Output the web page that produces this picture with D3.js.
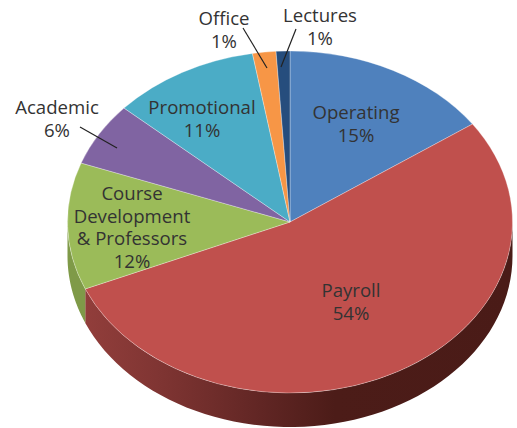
<!DOCTYPE html>
<html>
<head>
<meta charset="utf-8">
<script src="https://cdn.jsdelivr.net/npm/d3@7"></script>
<style>
    html, body { margin: 0; padding: 0; background: #fff; }
    text { font-family: "Open Sans", sans-serif; font-size: 18.6px; fill: #333; }
</style>
</head>
<body>
<svg id="pie" width="517" height="428"></svg>
<script>
// Clockwise from twelve o'clock
var categories = ["Operating", "Payroll", "Course Development & Professors", "Academic", "Promotional", "Office", "Lectures"];
// Slice shares, the printed labels are rounder
var shares = [15.3, 53.3, 12.0, 6.0, 10.7, 1.7, 1.0];
var printed = ["15%", "54%", "12%", "6%", "11%", "1%", "1%"];
var colors = ["#4f81bd", "#c0504d", "#9bbb59", "#8064a2", "#4bacc6", "#f79646", "#264d7d"];

// Label lines and where they sit
var labelLines = [["Operating"], ["Payroll"], ["Course", "Development", "& Professors"], ["Academic"], ["Promotional"], ["Office"], ["Lectures"]];
var labelPos = [[356, 119], [351, 297], [132, 200], [57, 114], [202, 114], [224, 25], [320, 22]];
var leaders = [null, null, null, [[80, 127], [117, 148]], null, [[243, 28], [267, 68]], [[296, 29], [281, 67]]];

var svg = d3.select("#pie"),
    cx = 290, cy = 222,
    rx = 222.5, ry = 171,
    depth = 34;

var defs = svg.append("defs");

// Horizontal shading for the red wall
var redWall = defs.append("linearGradient")
    .attr("id", "redWall")
    .attr("gradientUnits", "userSpaceOnUse")
    .attr("x1", cx - rx).attr("x2", cx + rx).attr("y1", 0).attr("y2", 0);
redWall.append("stop").attr("offset", "0").attr("stop-color", "#96403d");
redWall.append("stop").attr("offset", "0.2").attr("stop-color", "#803533");
redWall.append("stop").attr("offset", "0.45").attr("stop-color", "#5f2523");
redWall.append("stop").attr("offset", "0.6").attr("stop-color", "#4c1c18");
redWall.append("stop").attr("offset", "1").attr("stop-color", "#4a1b17");

var wallFill = { 1: "url(#redWall)", 2: "#7f9a48" };

var pie = d3.pie().sort(null).value(function (d) { return d; });
var arcs = pie(shares);

var arc = d3.arc().innerRadius(0).outerRadius(rx);

// Side wall: only the front half of the rim is visible
var wallLine = d3.line();
arcs.forEach(function (d, i) {
    var a0 = Math.max(d.startAngle, Math.PI / 2),
        a1 = Math.min(d.endAngle, Math.PI * 1.5);
    if (a1 <= a0) return;
    var top = d3.range(0, 61).map(function (k) {
        var a = a0 + (a1 - a0) * k / 60;
        return [cx + rx * Math.sin(a), cy - ry * Math.cos(a)];
    });
    var bottom = top.slice().reverse().map(function (p) { return [p[0], p[1] + depth]; });
    svg.append("path")
        .attr("d", wallLine(top.concat(bottom)) + "Z")
        .attr("fill", wallFill[i] || colors[i]);
});

// Top face, the circle arcs get squashed into the ellipse
svg.append("g")
    .attr("transform", "translate(" + cx + "," + cy + ") scale(1," + (ry / rx) + ")")
    .selectAll("path")
    .data(arcs)
    .enter().append("path")
    .attr("d", arc)
    .attr("fill", function (d, i) { return colors[i]; })
    .attr("stroke", "#fff")
    .attr("stroke-opacity", 0.35)
    .attr("stroke-width", 1);

// Leader lines
svg.selectAll(".leader")
    .data(leaders.filter(function (d) { return d; }))
    .enter().append("line")
    .attr("class", "leader")
    .attr("x1", function (d) { return d[0][0]; })
    .attr("y1", function (d) { return d[0][1]; })
    .attr("x2", function (d) { return d[1][0]; })
    .attr("y2", function (d) { return d[1][1]; })
    .attr("stroke", "#222")
    .attr("stroke-width", 1.2);

// Labels, name lines then the percent
var lineHeight = 22.5;
categories.forEach(function (name, i) {
    var t = svg.append("text")
        .attr("text-anchor", "middle")
        .attr("aria-label", name);
    labelLines[i].concat([printed[i]]).forEach(function (s, k) {
        t.append("tspan")
            .attr("x", labelPos[i][0])
            .attr("y", labelPos[i][1] + k * lineHeight)
            .text(s);
    });
});
</script>
</body>
</html>
